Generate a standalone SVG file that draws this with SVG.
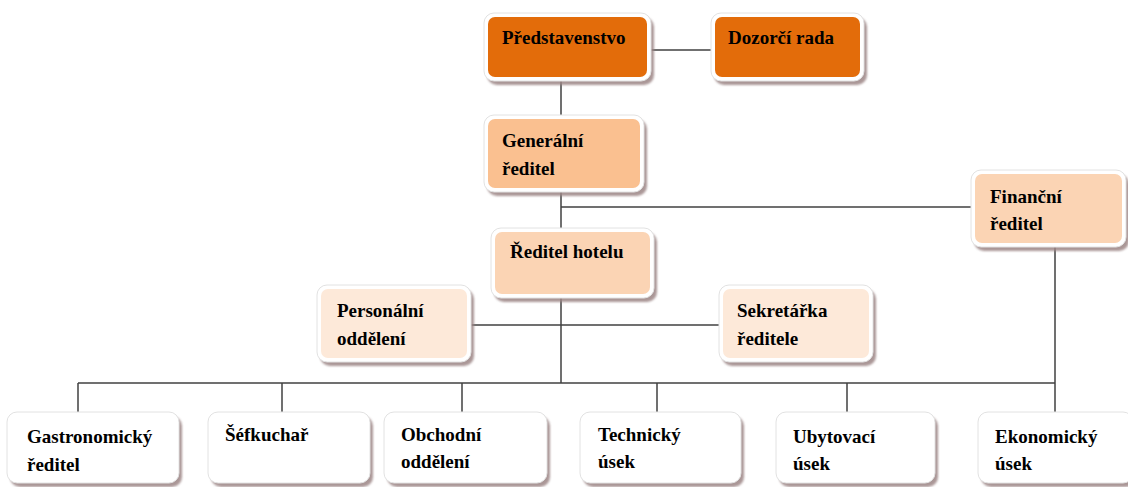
<svg xmlns="http://www.w3.org/2000/svg" width="1128" height="487" viewBox="0 0 1128 487">
<defs>
<filter id="sh" x="-10%" y="-10%" width="130%" height="130%"><feGaussianBlur stdDeviation="1.2"/></filter>
</defs>
<style>
.sh{fill:#9c8585;opacity:0.85;filter:url(#sh)}
.fr{fill:#ffffff;stroke:#e2e2e2;stroke-width:1}
.t{font-family:"Liberation Serif","Times New Roman",serif;font-weight:bold;font-size:19px;fill:#000}
.c{stroke:#404040;stroke-width:1.5;fill:none}
</style>
<rect width="1128" height="487" fill="#fff"/>
<g id="connectors">
<line class="c" x1="651" y1="50" x2="711" y2="50"/>
<line class="c" x1="561" y1="81" x2="561" y2="115"/>
<line class="c" x1="561" y1="192" x2="561" y2="228"/>
<line class="c" x1="561" y1="207" x2="971" y2="207"/>
<line class="c" x1="561" y1="298" x2="561" y2="383"/>
<line class="c" x1="471" y1="325" x2="719" y2="325"/>
<line class="c" x1="1055" y1="247" x2="1055" y2="412"/>
<line class="c" x1="78" y1="383" x2="1055" y2="383"/>
<line class="c" x1="78" y1="383" x2="78" y2="412"/>
<line class="c" x1="282" y1="383" x2="282" y2="412"/>
<line class="c" x1="462" y1="383" x2="462" y2="412"/>
<line class="c" x1="657" y1="383" x2="657" y2="412"/>
<line class="c" x1="847" y1="383" x2="847" y2="412"/>
</g>
<g id="predstavenstvo">
<rect class="sh" x="487" y="17" width="167" height="68" rx="10"/>
<rect class="fr" x="484" y="13" width="167" height="68" rx="10"/>
<rect x="488" y="17" width="159" height="60" rx="7" fill="#E36C0A"/>
<text class="t" x="502" y="44">Představenstvo</text>
</g>
<g id="dozorci-rada">
<rect class="sh" x="714" y="17" width="153" height="68" rx="10"/>
<rect class="fr" x="711" y="13" width="153" height="68" rx="10"/>
<rect x="715" y="17" width="145" height="60" rx="7" fill="#E36C0A"/>
<text class="t" x="728" y="44">Dozorčí rada</text>
</g>
<g id="generalni-reditel">
<rect class="sh" x="487" y="119" width="160" height="77" rx="10"/>
<rect class="fr" x="484" y="115" width="160" height="77" rx="10"/>
<rect x="488" y="119" width="152" height="69" rx="7" fill="#FAC090"/>
<text class="t" x="502" y="147">Generální</text>
<text class="t" x="502" y="175">ředitel</text>
</g>
<g id="financni-reditel">
<rect class="sh" x="974" y="174" width="155" height="77" rx="10"/>
<rect class="fr" x="971" y="170" width="155" height="77" rx="10"/>
<rect x="975" y="174" width="147" height="69" rx="7" fill="#FBD4B4"/>
<text class="t" x="990" y="203">Finanční</text>
<text class="t" x="990" y="230">ředitel</text>
</g>
<g id="reditel-hotelu">
<rect class="sh" x="494" y="232" width="163" height="70" rx="10"/>
<rect class="fr" x="491" y="228" width="163" height="70" rx="10"/>
<rect x="495" y="232" width="155" height="62" rx="7" fill="#FBD4B4"/>
<text class="t" x="510" y="258">Ředitel hotelu</text>
</g>
<g id="personalni-oddeleni">
<rect class="sh" x="320" y="289" width="154" height="77" rx="10"/>
<rect class="fr" x="317" y="285" width="154" height="77" rx="10"/>
<rect x="321" y="289" width="146" height="69" rx="7" fill="#FDE9D9"/>
<text class="t" x="337" y="317">Personální</text>
<text class="t" x="337" y="345">oddělení</text>
</g>
<g id="sekretarka-reditele">
<rect class="sh" x="722" y="289" width="154" height="77" rx="10"/>
<rect class="fr" x="719" y="285" width="154" height="77" rx="10"/>
<rect x="723" y="289" width="146" height="69" rx="7" fill="#FDE9D9"/>
<text class="t" x="737" y="317">Sekretářka</text>
<text class="t" x="737" y="345">ředitele</text>
</g>
<g id="gastronomicky-reditel">
<rect class="sh" x="10" y="416" width="172" height="71" rx="10"/>
<rect class="fr" x="7" y="412" width="172" height="71" rx="10"/>
<text class="t" x="27" y="443">Gastronomický</text>
<text class="t" x="27" y="471">ředitel</text>
</g>
<g id="sefkuchar">
<rect class="sh" x="211" y="416" width="162" height="71" rx="10"/>
<rect class="fr" x="208" y="412" width="162" height="71" rx="10"/>
<text class="t" x="225" y="441">Šéfkuchař</text>
</g>
<g id="obchodni-oddeleni">
<rect class="sh" x="387" y="416" width="163" height="71" rx="10"/>
<rect class="fr" x="384" y="412" width="163" height="71" rx="10"/>
<text class="t" x="401" y="441">Obchodní</text>
<text class="t" x="401" y="468">oddělení</text>
</g>
<g id="technicky-usek">
<rect class="sh" x="583" y="416" width="161" height="71" rx="10"/>
<rect class="fr" x="580" y="412" width="161" height="71" rx="10"/>
<text class="t" x="598" y="441">Technický</text>
<text class="t" x="598" y="468">úsek</text>
</g>
<g id="ubytovaci-usek">
<rect class="sh" x="779" y="416" width="159" height="71" rx="10"/>
<rect class="fr" x="776" y="412" width="159" height="71" rx="10"/>
<text class="t" x="793" y="443">Ubytovací</text>
<text class="t" x="793" y="470">úsek</text>
</g>
<g id="ekonomicky-usek">
<rect class="sh" x="981" y="416" width="155" height="71" rx="10"/>
<rect class="fr" x="978" y="412" width="155" height="71" rx="10"/>
<text class="t" x="995" y="443">Ekonomický</text>
<text class="t" x="995" y="470">úsek</text>
</g>
</svg>
